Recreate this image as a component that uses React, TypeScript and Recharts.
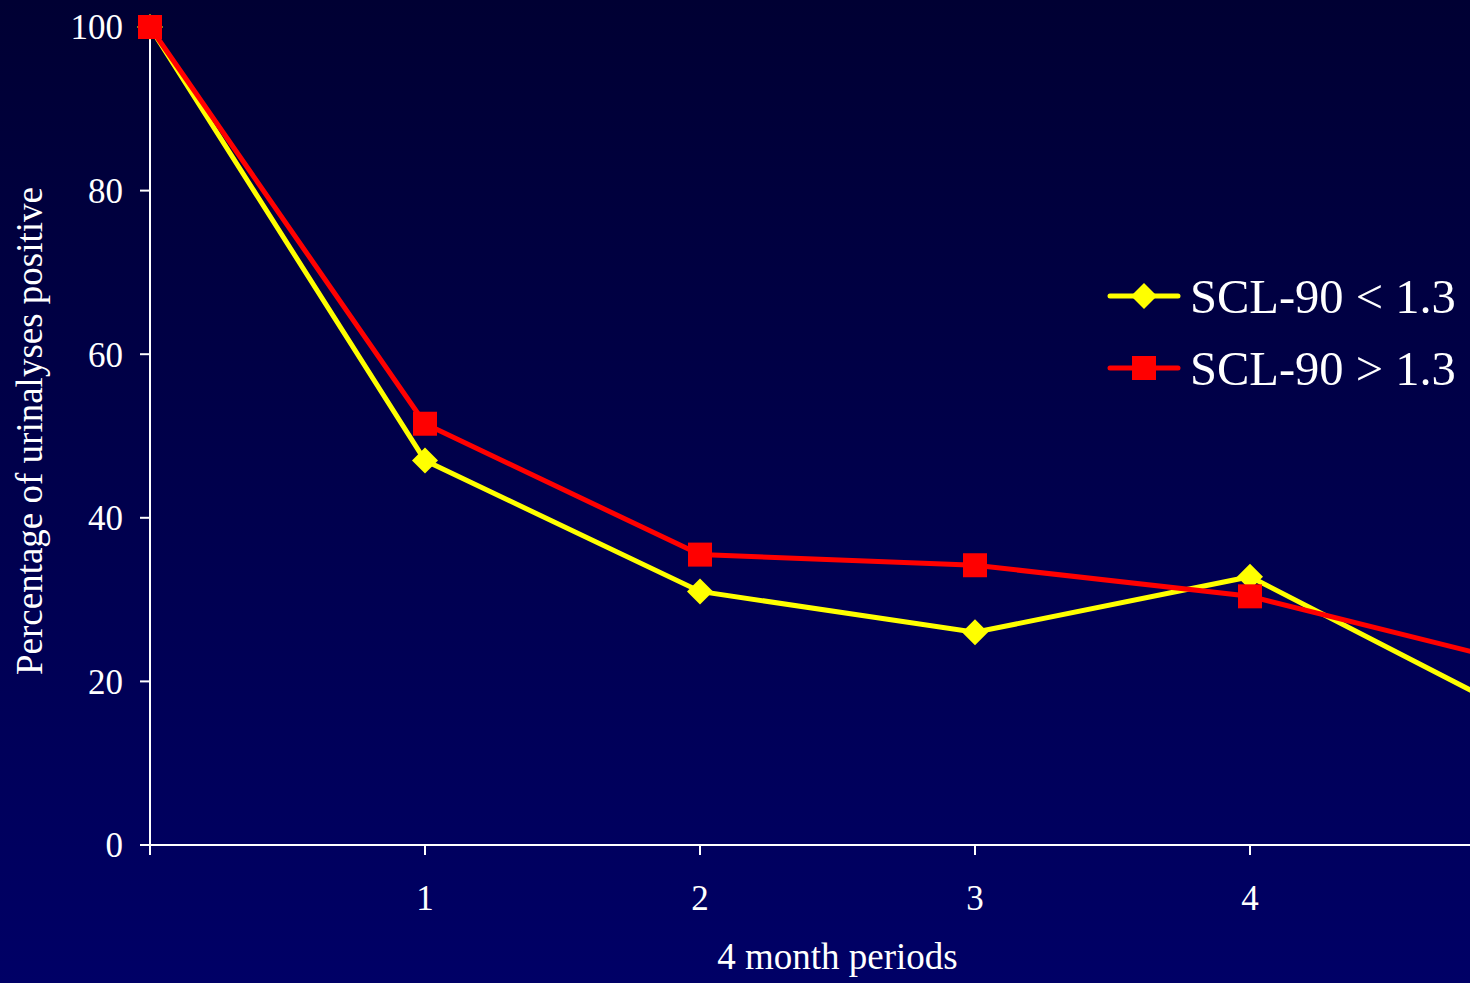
import React from 'react';
import { Legend, Line, LineChart, XAxis, YAxis } from 'recharts';

const periods = [0, 1, 2, 3, 4, 5];
const lowScores = [100, 47, 31, 26, 32.8, 15.5];
const highScores = [100, 51.5, 35.5, 34.2, 30.4, 22];
const yTicks = [0, 20, 40, 60, 80, 100];
const xLabels = ['', '1', '2', '3', '4', ''];
const seriesNames = ['SCL-90 < 1.3', 'SCL-90 > 1.3'];

const data = periods.map((p, i) => ({
  period: p,
  low: lowScores[i],
  high: highScores[i],
}));

const FONT = '"Liberation Serif", "Times New Roman", serif';

const Diamond = ({ cx, cy }: any) => {
  if (cx == null || cy == null) return null;
  const r = 13;
  return (
    <polygon
      points={`${cx},${cy - r} ${cx + r},${cy} ${cx},${cy + r} ${cx - r},${cy}`}
      fill='#ffff00'
    />
  );
};

const Square = ({ cx, cy }: any) => {
  if (cx == null || cy == null) return null;
  return <rect x={cx - 12} y={cy - 12} width={24} height={24} fill='#ff0000' />;
};

const renderLegend = () => (
  <svg width={362} height={130} style={{ overflow: 'visible' }}>
    {seriesNames.map((name, i) => {
      const y = 24 + i * 72;
      const color = i === 0 ? '#ffff00' : '#ff0000';
      return (
        <g key={name}>
          <line x1={2} x2={70} y1={y} y2={y} stroke={color} strokeWidth={5} strokeLinecap='round' />
          {i === 0 ? <Diamond cx={36} cy={y} /> : <Square cx={36} cy={y} />}
          <text x={82} y={y + 17} fill='#ffffff' fontSize={48.5} fontFamily={FONT}>
            {name}
          </text>
        </g>
      );
    })}
  </svg>
);

const YTitle = ({ viewBox }: any) => {
  const cy = viewBox.y + viewBox.height / 2;
  return (
    <text
      x={0}
      y={0}
      transform={`translate(42, ${cy - 5}) rotate(-90)`}
      textAnchor='middle'
      fill='#ffffff'
      fontSize={37}
      fontFamily={FONT}
    >
      Percentage of urinalyses positive
    </text>
  );
};

export default function App() {
  return (
    <div
      style={{
        position: 'absolute',
        top: 0,
        left: 0,
        width: 1470,
        height: 983,
        overflow: 'hidden',
        background: 'linear-gradient(to bottom, #000033, #000066)',
      }}
    >
      <LineChart
        width={1600}
        height={983}
        data={data}
        margin={{ top: 27, right: 75, bottom: 58, left: 60 }}
      >
        <XAxis
          dataKey='period'
          type='number'
          domain={[0, 5]}
          ticks={periods}
          tickFormatter={(v, i) => xLabels[i] ?? ''}
          height={80}
          stroke='#ffffff'
          strokeWidth={2}
          tickSize={10}
          tickMargin={30}
          tick={{ fill: '#ffffff', fontSize: 35, fontFamily: FONT }}
          label={{
            value: '4 month periods',
            position: 'insideBottom',
            offset: -44,
            fill: '#ffffff',
            fontSize: 37,
            fontFamily: FONT,
          }}
        />
        <YAxis
          domain={[0, 100]}
          ticks={yTicks}
          width={90}
          stroke='#ffffff'
          strokeWidth={2}
          tickSize={10}
          tickMargin={17}
          tick={{ fill: '#ffffff', fontSize: 35, fontFamily: FONT }}
          label={<YTitle />}
        />
        <Legend
          layout='vertical'
          verticalAlign='middle'
          align='center'
          content={renderLegend}
          wrapperStyle={{ left: 1108, top: 272, width: 362 }}
        />
        <Line
          dataKey='low'
          name={seriesNames[0]}
          stroke='#ffff00'
          strokeWidth={5}
          dot={<Diamond />}
          activeDot={false}
          isAnimationActive={false}
        />
        <Line
          dataKey='high'
          name={seriesNames[1]}
          stroke='#ff0000'
          strokeWidth={5}
          dot={<Square />}
          activeDot={false}
          isAnimationActive={false}
        />
      </LineChart>
    </div>
  );
}
